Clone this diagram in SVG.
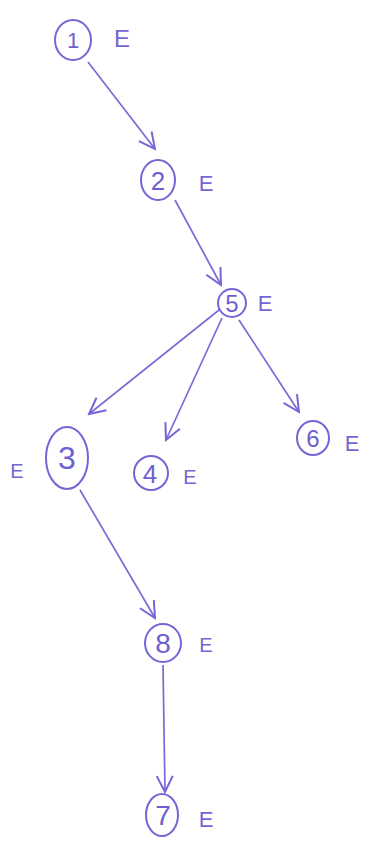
<svg xmlns="http://www.w3.org/2000/svg" width="366" height="843" viewBox="0 0 366 843">
<style>
.n{fill:none;stroke:#7566d6;stroke-width:2}
.c{fill:none;stroke:#7a6ad8;stroke-width:1.7}
.t{font-family:"Liberation Sans",Arial,sans-serif;fill:#6e5fd0;text-anchor:middle}
.e{font-family:"Liberation Sans",Arial,sans-serif;fill:#7566d6;text-anchor:middle}
</style>
<defs>
<marker id="a" viewBox="0 0 20 20" refX="18" refY="10" markerWidth="20" markerHeight="20" markerUnits="userSpaceOnUse" orient="auto">
<polyline points="2,2 18,10 2,18" fill="none" stroke="#7566d6" stroke-width="2"/>
</marker>
</defs>
<rect width="366" height="843" fill="#fff"/>
<g id="connectors">
<line class="c" x1="88" y1="62" x2="155" y2="149" marker-end="url(#a)"/>
<line class="c" x1="175" y1="200" x2="221" y2="285" marker-end="url(#a)"/>
<line class="c" x1="219" y1="310" x2="89" y2="414" marker-end="url(#a)"/>
<line class="c" x1="222" y1="318" x2="166" y2="440" marker-end="url(#a)"/>
<line class="c" x1="239" y1="320" x2="299" y2="412" marker-end="url(#a)"/>
<line class="c" x1="80" y1="490" x2="155" y2="618" marker-end="url(#a)"/>
<line class="c" x1="163" y1="665" x2="165" y2="792" marker-end="url(#a)"/>
</g>
<g id="node1"><ellipse class="n" cx="73" cy="40" rx="18" ry="20"/><text class="t" x="73" y="48" font-size="22">1</text><text class="e" x="122" y="47" font-size="24">E</text></g>
<g id="node2"><ellipse class="n" cx="158" cy="180" rx="17" ry="20"/><text class="t" x="158" y="190" font-size="26">2</text><text class="e" x="206" y="191" font-size="22">E</text></g>
<g id="node5"><ellipse class="n" cx="232" cy="303" rx="14" ry="14"/><text class="t" x="232" y="312" font-size="24">5</text><text class="e" x="265" y="311" font-size="22">E</text></g>
<g id="node3"><ellipse class="n" cx="67" cy="458" rx="21" ry="31"/><text class="t" x="67" y="469" font-size="32">3</text><text class="e" x="17" y="478" font-size="20">E</text></g>
<g id="node4"><ellipse class="n" cx="151" cy="473" rx="17" ry="17"/><text class="t" x="150" y="483" font-size="26">4</text><text class="e" x="190" y="484" font-size="20">E</text></g>
<g id="node6"><ellipse class="n" cx="313" cy="438" rx="16" ry="17"/><text class="t" x="313" y="447" font-size="24">6</text><text class="e" x="352" y="451" font-size="22">E</text></g>
<g id="node8"><ellipse class="n" cx="163" cy="643" rx="18" ry="19"/><text class="t" x="163" y="653" font-size="28">8</text><text class="e" x="206" y="652" font-size="20">E</text></g>
<g id="node7"><ellipse class="n" cx="162" cy="815" rx="16" ry="21"/><text class="t" x="163" y="825" font-size="28">7</text><text class="e" x="206" y="827" font-size="22">E</text></g>
</svg>
